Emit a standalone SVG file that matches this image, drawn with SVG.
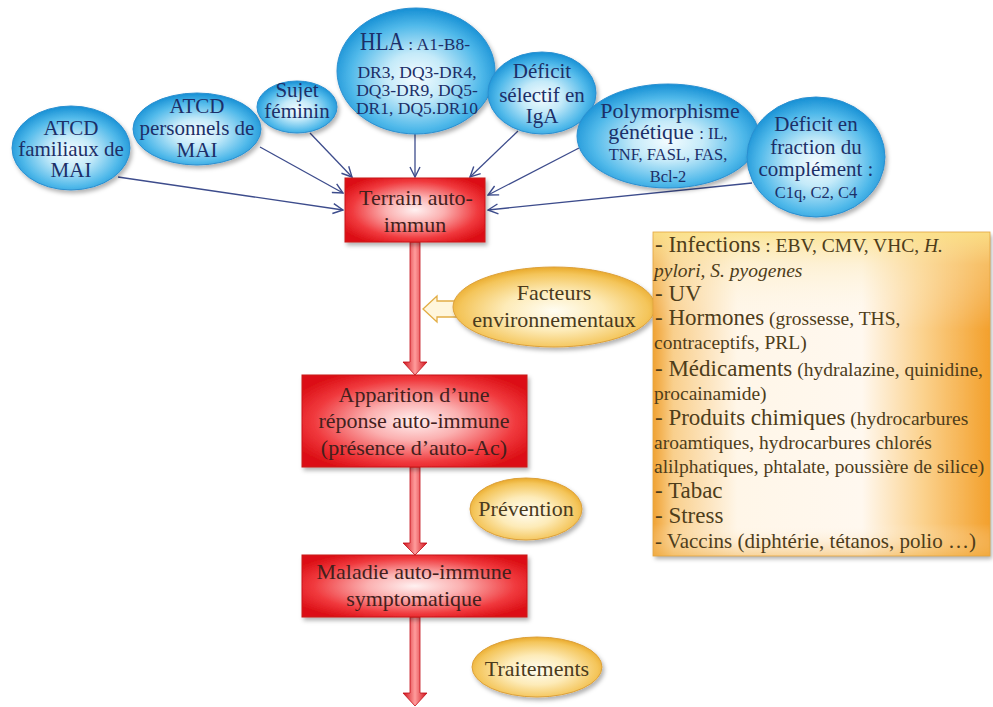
<svg xmlns="http://www.w3.org/2000/svg" width="993" height="707" viewBox="0 0 993 707">
  <defs>
    <radialGradient id="gBlue" cx="50%" cy="55%" r="55%">
      <stop offset="0" stop-color="#f4fcff"/>
      <stop offset="0.35" stop-color="#c4eaf9"/>
      <stop offset="0.75" stop-color="#50b9ea"/>
      <stop offset="1" stop-color="#168fd4"/>
    </radialGradient>
    <radialGradient id="gGold" cx="50%" cy="55%" r="55%">
      <stop offset="0" stop-color="#fffdf2"/>
      <stop offset="0.45" stop-color="#fdebb8"/>
      <stop offset="0.85" stop-color="#f4c55a"/>
      <stop offset="1" stop-color="#e9a92a"/>
    </radialGradient>
    <radialGradient id="gRed" cx="50%" cy="50%" r="60%">
      <stop offset="0" stop-color="#fff1f1"/>
      <stop offset="0.35" stop-color="#fbb0b0"/>
      <stop offset="0.75" stop-color="#f0393d"/>
      <stop offset="1" stop-color="#dc1016"/>
    </radialGradient>
    <linearGradient id="gShaft" x1="0" y1="0" x2="1" y2="0">
      <stop offset="0" stop-color="#cf0f18"/>
      <stop offset="0.5" stop-color="#ff9c9c"/>
      <stop offset="1" stop-color="#cf0f18"/>
    </linearGradient>
    <linearGradient id="gBoxH" x1="0" y1="0" x2="1" y2="0">
      <stop offset="0" stop-color="#f0a233"/>
      <stop offset="0.06" stop-color="#f9cf8c"/>
      <stop offset="0.25" stop-color="#fff6e8"/>
      <stop offset="0.62" stop-color="#fff8ef"/>
      <stop offset="0.8" stop-color="#fbd28e"/>
      <stop offset="1" stop-color="#f3a02c"/>
    </linearGradient>
    <linearGradient id="gBoxV" x1="0" y1="0" x2="0" y2="1">
      <stop offset="0" stop-color="#fbe38a" stop-opacity="0.9"/>
      <stop offset="0.1" stop-color="#fbe7b0" stop-opacity="0.4"/>
      <stop offset="0.3" stop-color="#ffffff" stop-opacity="0"/>
      <stop offset="0.9" stop-color="#ffffff" stop-opacity="0"/>
      <stop offset="1" stop-color="#f0b04a" stop-opacity="0.5"/>
    </linearGradient>
    <filter id="shadow" x="-20%" y="-20%" width="140%" height="150%">
      <feDropShadow dx="2" dy="3" stdDeviation="2" flood-color="#000" flood-opacity="0.3"/>
    </filter>
    <marker id="open" viewBox="0 0 12 12" refX="11" refY="6" markerWidth="12" markerHeight="12" markerUnits="userSpaceOnUse" orient="auto">
      <path d="M1,1 L11,6 L1,11" fill="none" stroke="#3d4c8c" stroke-width="1.4"/>
    </marker>
  </defs>
  <style>
    text { font-family: "Liberation Serif", "Times New Roman", serif; }
    .blue { fill: url(#gBlue); stroke: #2a8fd0; stroke-width: 1; filter: url(#shadow); }
    .gold { fill: url(#gGold); stroke: #dca03a; stroke-width: 1; filter: url(#shadow); }
    .red { fill: url(#gRed); stroke: #c8141a; stroke-width: 1; filter: url(#shadow); }
    .bt { fill: #1c2f68; text-anchor: middle; font-size: 21px; }
    .rt { fill: #43201c; text-anchor: middle; font-size: 22px; }
    .gt { fill: #4a3a1c; text-anchor: middle; font-size: 22px; }
    .ot { fill: #4e3d1a; font-size: 19.5px; }
    .big { font-size: 23px; }
    .thin { fill: none; stroke: #3d4c8c; stroke-width: 1.3; marker-end: url(#open); }
    .shaft { fill: url(#gShaft); stroke: #c20e16; stroke-width: 0.8; }
  </style>

  <!-- thin connectors towards "Terrain auto-immun" -->
  <g id="connectors">
    <line class="thin" x1="118" y1="177" x2="343" y2="210"/>
    <line class="thin" x1="260" y1="147" x2="343" y2="193"/>
    <line class="thin" x1="310" y1="133" x2="352" y2="177"/>
    <line class="thin" x1="415" y1="134" x2="415" y2="177"/>
    <line class="thin" x1="518" y1="131" x2="470" y2="177"/>
    <line class="thin" x1="579" y1="148" x2="488" y2="195"/>
    <line class="thin" x1="752" y1="183" x2="488" y2="210"/>
    <!-- red flow arrows -->
    <path class="shaft" d="M410,242 L420,242 L420,362 L427,362 L415,375 L403,362 L410,362 Z"/>
    <path class="shaft" d="M410,467 L420,467 L420,543 L427,543 L415,555 L403,543 L410,543 Z"/>
    <path class="shaft" d="M410,617 L420,617 L420,693 L427,693 L415,706 L403,693 L410,693 Z"/>
    <!-- hollow arrow from environmental factors -->
    <path d="M423,309 L437,296 L437,301 L456,301 L456,317 L437,317 L437,322 Z" fill="#fff6dc" stroke="#e2ad45" stroke-width="1.3"/>
  </g>

  <g id="atcd-familiaux">
    <ellipse class="blue" cx="71" cy="148" rx="59" ry="42"/>
    <text class="bt"><tspan x="71" y="135">ATCD</tspan><tspan x="71" y="156">familiaux de</tspan><tspan x="71" y="177">MAI</tspan></text>
  </g>
  <g id="atcd-personnels">
    <ellipse class="blue" cx="197" cy="129" rx="64" ry="36"/>
    <text class="bt"><tspan x="197" y="113">ATCD</tspan><tspan x="197" y="135">personnels de</tspan><tspan x="197" y="157">MAI</tspan></text>
  </g>
  <g id="sujet-feminin">
    <ellipse class="blue" cx="297" cy="107" rx="40" ry="26"/>
    <text class="bt"><tspan x="297" y="97">Sujet</tspan><tspan x="297" y="118">féminin</tspan></text>
  </g>
  <g id="hla">
    <ellipse class="blue" cx="416" cy="71" rx="79" ry="63"/>
    <text class="bt" x="415" y="50" style="font-size:17.5px"><tspan style="font-size:26px" textLength="44" lengthAdjust="spacingAndGlyphs">HLA</tspan> : A1-B8-</text>
    <text class="bt" style="font-size:17.5px"><tspan x="417" y="78">DR3, DQ3-DR4,</tspan><tspan x="417" y="96">DQ3-DR9, DQ5-</tspan><tspan x="417" y="114">DR1, DQ5.DR10</tspan></text>
  </g>
  <g id="deficit-iga">
    <ellipse class="blue" cx="542" cy="93" rx="54" ry="41"/>
    <text class="bt"><tspan x="542" y="78">Déficit</tspan><tspan x="542" y="102">sélectif en</tspan><tspan x="542" y="123">IgA</tspan></text>
  </g>
  <g id="polymorphisme">
    <ellipse class="blue" cx="668" cy="136" rx="91" ry="52"/>
    <text class="bt" style="font-size:22px"><tspan x="670" y="118">Polymorphisme</tspan><tspan x="668" y="139">génétique <tspan style="font-size:16.5px">: IL,</tspan></tspan><tspan x="668" y="160" style="font-size:16.5px">TNF, FASL, FAS,</tspan><tspan x="668" y="182" style="font-size:16.5px">Bcl-2</tspan></text>
  </g>
  <g id="deficit-complement">
    <ellipse class="blue" cx="816" cy="157" rx="69" ry="60"/>
    <text class="bt"><tspan x="816" y="131">Déficit en</tspan><tspan x="816" y="154">fraction du</tspan><tspan x="816" y="176">complément :</tspan><tspan x="816" y="198" style="font-size:16.5px">C1q, C2, C4</tspan></text>
  </g>

  <g id="terrain">
    <rect class="red" x="345" y="178" width="140" height="64"/>
    <text class="rt"><tspan x="416" y="205">Terrain auto-</tspan><tspan x="415" y="232">immun</tspan></text>
  </g>
  <g id="apparition">
    <rect class="red" x="302" y="375" width="225" height="92"/>
    <text class="rt"><tspan x="414" y="402">Apparition d’une</tspan><tspan x="414" y="428">réponse auto-immune</tspan><tspan x="414" y="455">(présence d’auto-Ac)</tspan></text>
  </g>
  <g id="maladie">
    <rect class="red" x="302" y="555" width="225" height="62"/>
    <text class="rt"><tspan x="414" y="579">Maladie auto-immune</tspan><tspan x="414" y="606">symptomatique</tspan></text>
  </g>

  <g id="facteurs">
    <ellipse class="gold" cx="554" cy="307" rx="101" ry="40"/>
    <text class="gt"><tspan x="554" y="300">Facteurs</tspan><tspan x="554" y="327">environnementaux</tspan></text>
  </g>
  <g id="prevention">
    <ellipse class="gold" cx="526" cy="509" rx="56" ry="31"/>
    <text class="gt" x="526" y="516">Prévention</text>
  </g>
  <g id="traitements">
    <ellipse class="gold" cx="537" cy="667" rx="65" ry="30"/>
    <text class="gt" x="537" y="676">Traitements</text>
  </g>

  <g id="liste-facteurs">
    <rect x="653" y="232" width="337" height="324" fill="url(#gBoxH)" filter="url(#shadow)"/>
    <rect x="653" y="232" width="337" height="324" fill="url(#gBoxV)" stroke="#e3a640" stroke-width="0.8"/>
    <text class="ot" x="655" y="252"><tspan class="big">- Infections</tspan> : EBV, CMV, VHC, <tspan font-style="italic">H.</tspan></text>
    <text class="ot" x="654" y="277" font-style="italic">pylori, S. pyogenes</text>
    <text class="ot big" x="655" y="301">- UV</text>
    <text class="ot" x="655" y="325"><tspan class="big">- Hormones</tspan> (grossesse, THS,</text>
    <text class="ot" x="654" y="349">contraceptifs, PRL)</text>
    <text class="ot" x="655" y="376"><tspan class="big">- Médicaments</tspan> (hydralazine, quinidine,</text>
    <text class="ot" x="654" y="400">procainamide)</text>
    <text class="ot" x="655" y="425"><tspan class="big">- Produits chimiques</tspan> (hydrocarbures</text>
    <text class="ot" x="654" y="449">aroamtiques, hydrocarbures chlorés</text>
    <text class="ot" x="654" y="473">alilphatiques, phtalate, poussière de silice)</text>
    <text class="ot big" x="655" y="498">- Tabac</text>
    <text class="ot big" x="655" y="523">- Stress</text>
    <text class="ot" x="655" y="548" style="font-size:21px">- Vaccins (diphtérie, tétanos, polio …)</text>
  </g>
</svg>
